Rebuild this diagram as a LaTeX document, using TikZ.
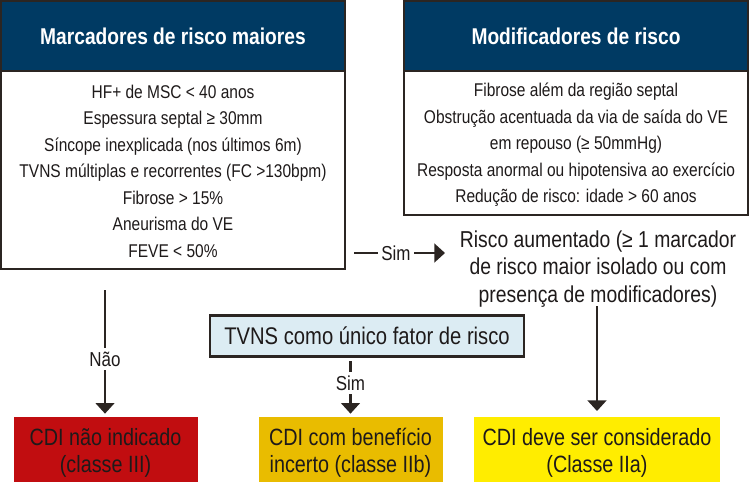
\documentclass[tikz,border=0pt]{standalone}
\usepackage{fontspec}
\setmainfont[FakeStretch=0.84]{Liberation Sans}
\usetikzlibrary{arrows.meta}
\definecolor{navy}{HTML}{003A63}
\definecolor{edge}{HTML}{2B2522}
\definecolor{ink}{HTML}{1E1A1A}
\definecolor{pale}{HTML}{DCECF3}
\definecolor{redbox}{HTML}{C10D10}
\definecolor{ambox}{HTML}{E9BC00}
\definecolor{yebox}{HTML}{FFED00}
\tikzstyle{hd}=[draw=edge,line width=1.5pt,fill=navy,text=white,font=\fontsize{13}{15}\selectfont\bfseries,minimum width=344*0.02cm,minimum height=70*0.02cm,inner sep=0pt]
\tikzstyle{bd}=[draw=edge,line width=1.5pt,fill=white,minimum width=344*0.02cm,inner sep=0pt]
\tikzstyle{txt}=[text=ink,align=center,font=\fontsize{10.5}{15.1}\selectfont,inner sep=0pt]
\tikzstyle{res}=[text=ink,align=center,font=\fontsize{13.4}{15.6}\selectfont,minimum width=184*0.02cm,minimum height=72*0.02cm,inner sep=0pt]
\tikzstyle{lb}=[text=ink,font=\fontsize{11.5}{13}\selectfont,inner sep=2pt]
\tikzstyle{arr}=[draw=edge,line width=1.5pt,-{Triangle[length=6pt,width=10.5pt]}]
\tikzstyle{lin}=[draw=edge,line width=1.5pt]

\begin{document}
\begin{tikzpicture}[x=0.02cm,y=-0.02cm]
\useasboundingbox (0,0) rectangle (750,481);
\node[bd,minimum height=198*0.02cm] (maiorb) at (173,170) {};
\node[txt] (maiort) at (173,171) {HF+ de MSC < 40 anos\\Espessura septal ≥ 30mm\\Síncope inexplicada (nos últimos 6m)\\TVNS múltiplas e recorrentes (FC >130bpm)\\Fibrose > 15\%\\Aneurisma do VE\\FEVE < 50\%};
\node[hd] (maiorh) at (173,36) {Marcadores de risco maiores};
\node[bd,minimum height=144*0.02cm] (modb) at (576,143) {};
\node[txt] (modt) at (576,145) {Fibrose além da região septal\\Obstrução acentuada da via de saída do VE\\em repouso (≥ 50mmHg)\\Resposta anormal ou hipotensiva ao exercício\\Redução de risco: idade > 60 anos};
\node[hd] (modh) at (576,36) {Modificadores de risco};
\node[lb] (simh) at (396,253) {Sim};
\node[text=ink,align=center,inner sep=0pt,font=\fontsize{13.1}{15.5}\selectfont] (risco) at (598,269) {Risco aumentado (≥ 1 marcador\\de risco maior isolado ou com\\presença de modificadores)};
\node[draw=edge,line width=1.5pt,fill=pale,text=ink,font=\fontsize{13.7}{15}\selectfont,minimum width=314*0.02cm,minimum height=41*0.02cm,inner sep=0pt] (tvns) at (367,336) {TVNS como único fator de risco};
\node[lb] (nao) at (105,359) {Não};
\node[lb] (simb) at (350.5,383) {Sim};
\node[res,fill=redbox] (cdia) at (105.5,453) {CDI não indicado\\(classe III)};
\node[res,fill=ambox] (cdib) at (350.5,453) {CDI com benefício\\incerto (classe IIb)};
\node[res,fill=yebox,minimum width=246*0.02cm] (cdic) at (597,453) {CDI deve ser considerado\\(Classe IIa)};
\coordinate (n0) at (105,290);
\coordinate (s0) at (354,253);
\coordinate (s1) at (445,253);
\coordinate (m0) at (597,306);
\draw[lin] (n0) -- (nao);
\draw[arr,shorten >=1.7pt] (nao) -- (nao |- cdia.north);
\draw[lin] (s0) -- (simh);
\draw[arr] (simh) -- (s1);
\draw[lin,shorten <=2pt] (tvns.south -| simb) -- (simb);
\draw[arr,shorten >=1.7pt] (simb) -- (simb |- cdib.north);
\draw[arr,shorten >=3.2pt] (m0) -- (m0 |- cdic.north);
\end{tikzpicture}
\end{document}
